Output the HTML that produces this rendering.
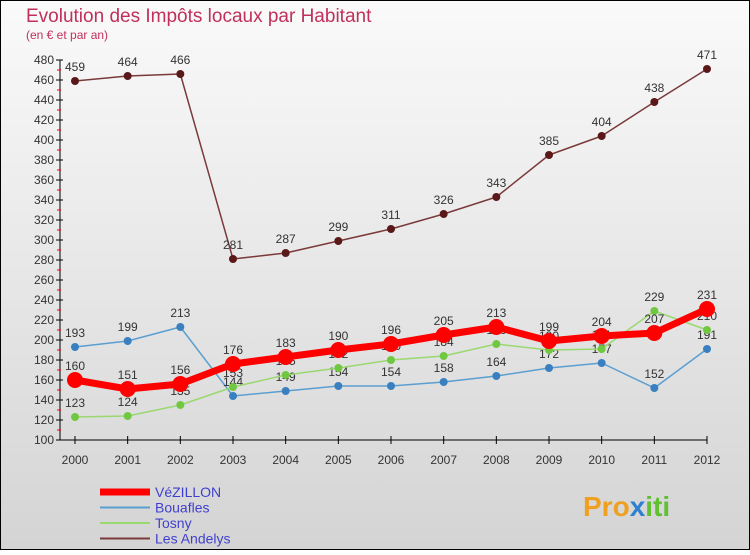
<!DOCTYPE html>
<html><head><meta charset="utf-8"><style>
body{margin:0;}
svg text{font-family:"Liberation Sans",sans-serif;}
</style></head><body>
<svg width="750" height="550" xmlns="http://www.w3.org/2000/svg">
<defs><linearGradient id="bg" x1="0" y1="0" x2="0" y2="1"><stop offset="0" stop-color="#fafafa"/><stop offset="1" stop-color="#d4d4d4"/></linearGradient></defs>
<rect x="0.5" y="0.5" width="749" height="549" fill="url(#bg)" stroke="#000"/>
<text x="26" y="22" font-size="19" fill="#c0305a">Evolution des Impôts locaux par Habitant</text>
<text x="26" y="39" font-size="12" fill="#c0305a">(en € et par an)</text>
<g id="axes"></g><g id="series"></g><g id="legend"></g>
<g><text x="583" y="516" font-size="28" font-weight="bold" fill="#f0a020">Pro<tspan fill="#3080d0">x</tspan><tspan fill="#60c030">iti</tspan></text></g>
</svg>
<script>
const years=["2000","2001","2002","2003","2004","2005","2006","2007","2008","2009","2010","2011","2012"];
const vezillon=[160,151,156,176,183,190,196,205,213,199,204,207,231];
const bouafles=[193,199,213,144,149,154,154,158,164,172,177,152,191];
const tosny=[123,124,135,153,165,172,180,184,196,190,191,229,210];
const andelys=[459,464,466,281,287,299,311,326,343,385,404,438,471];
const yTicks=[100,120,140,160,180,200,220,240,260,280,300,320,340,360,380,400,420,440,460,480];
const NS="http://www.w3.org/2000/svg";
const X=i=>75+i*(707-75)/12, Y=v=>440-(v-100);
function mk(t,a,p){const e=document.createElementNS(NS,t);for(const k in a)e.setAttribute(k,a[k]);p.appendChild(e);return e;}
const ax=document.getElementById('axes');
let yl=mk('line',{x1:60,y1:60,x2:60,y2:440,stroke:'#000'},ax);

let xl=mk('line',{x1:60,y1:440,x2:707,y2:440,stroke:'#000'},ax);

for(let v=110;v<480;v+=20){mk('line',{x1:57,y1:Y(v),x2:61,y2:Y(v),stroke:'#e00'},ax);}
yTicks.forEach(v=>{mk('line',{x1:56,y1:Y(v),x2:63,y2:Y(v),stroke:'#000'},ax);
 const t=mk('text',{x:54,y:Y(v)+4,'font-size':12,'text-anchor':'end',fill:'#333'},ax);t.textContent=v;
 });
years.forEach((y,i)=>{mk('line',{x1:X(i),y1:436,x2:X(i),y2:444,stroke:'#000'},ax);
 const t=mk('text',{x:X(i),y:464,'font-size':12,'text-anchor':'middle',fill:'#333'},ax);t.textContent=y;
 });
const sg=document.getElementById('series');
function draw(name,data,color,w,r,dot){
 const g=mk('g',{},sg);
 mk('polyline',{points:data.map((v,i)=>X(i)+','+Y(v)).join(' '),fill:'none',stroke:color,'stroke-width':w,'stroke-linejoin':'round'},g);
 data.forEach((v,i)=>{const c=mk('circle',{cx:X(i),cy:Y(v),r:r,fill:dot},g);
  
  const t=mk('text',{x:X(i),y:Y(v)-10,'font-size':12,'text-anchor':'middle',fill:'#333'},g);t.textContent=v;
  });
}
draw('les-andelys',andelys,'#7a3a3a',1.5,4,'#5a1818');
draw('bouafles',bouafles,'#5a9fd0',1.5,4,'#3a80c0');
draw('tosny',tosny,'#9ad870',1.5,4,'#70c840');
draw('vezillon',vezillon,'#f00',7,8,'#f00');
const lg=document.getElementById('legend');
[["VéZILLON","#f00",7],["Bouafles","#5a9fd0",2],["Tosny","#9ad870",2],["Les Andelys","#7a3a3a",2]].forEach((d,i)=>{
 const y=492+i*15.5;
 const g=mk('g',{},lg);
 mk('line',{x1:100,y1:y,x2:150,y2:y,stroke:d[1],'stroke-width':d[2]},g);
 const t=mk('text',{x:155,y:y+5,'font-size':14,fill:'#4040d0'},g);t.textContent=d[0];
});
</script>
</body></html>
